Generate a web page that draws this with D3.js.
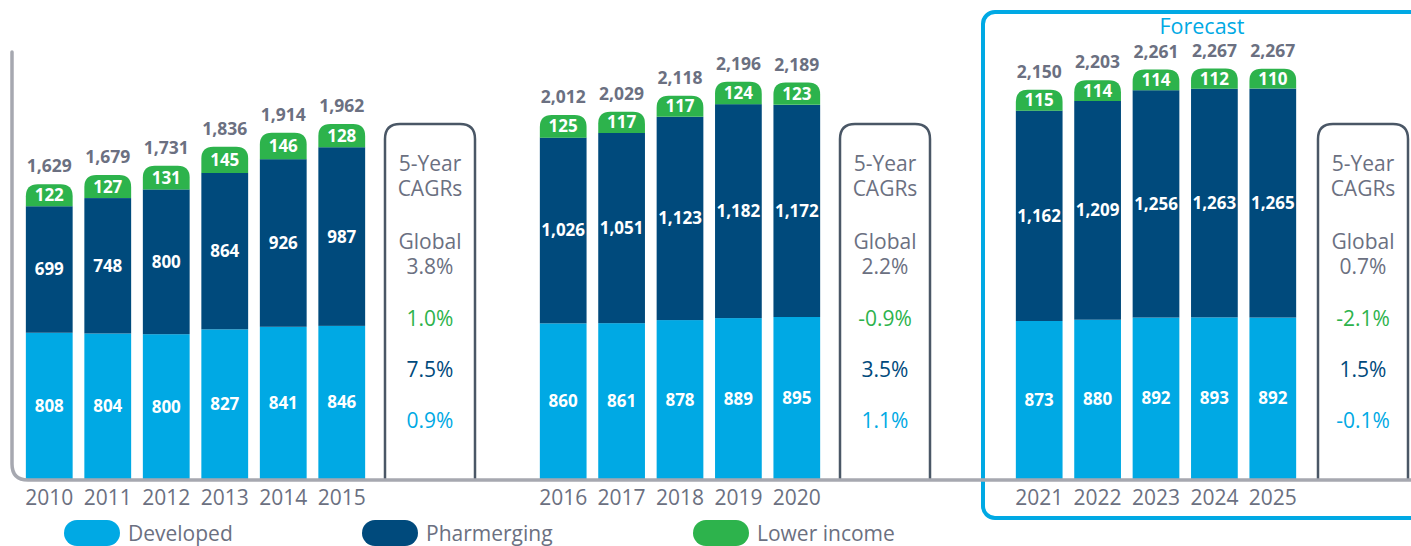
<!DOCTYPE html>
<html><head><meta charset="utf-8">
<script src="https://cdn.jsdelivr.net/npm/d3@7"></script>
<style>
html,body{margin:0;padding:0;background:#fff;}
text{font-family:"Open Sans","Noto Sans",sans-serif;}
</style></head>
<body>
<svg id="c" width="1411" height="546"></svg>
<script>
const years = [2010,2011,2012,2013,2014,2015,2016,2017,2018,2019,2020,2021,2022,2023,2024,2025];
const developed = [808,804,800,827,841,846,860,861,878,889,895,873,880,892,893,892];
const pharmerging = [699,748,800,864,926,987,1026,1051,1123,1182,1172,1162,1209,1256,1263,1265];
const lowerIncome = [122,127,131,145,146,128,125,117,117,124,123,115,114,114,112,110];
const totals = [1629,1679,1731,1836,1914,1962,2012,2029,2118,2196,2189,2150,2203,2261,2267,2267];
const groups = [[2010,2011,2012,2013,2014,2015],[2016,2017,2018,2019,2020],[2021,2022,2023,2024,2025]];
const cagrGlobal = ["3.8%","2.2%","0.7%"];
const cagrLower = ["1.0%","-0.9%","-2.1%"];
const cagrPharm = ["7.5%","3.5%","1.5%"];
const cagrDev = ["0.9%","1.1%","-0.1%"];
const seriesNames = ["Developed","Pharmerging","Lower income"];

const C = {dev:"#00a9e4", ph:"#004a7c", low:"#2db34c", gray:"#6b7081", axis:"#a6a8b0", box:"#4a5766"};
const svg = d3.select("#c");
const base = 479;
const y = d3.scaleLinear().domain([0,2500]).range([base, base-452.5]);
const ranges = [[20,371],[534,826],[1010,1302]];
const boxX = [385,840,1318];
const boxW = 90;

// forecast box
svg.append("rect").attr("x",983).attr("y",12).attr("width",460).attr("height",506)
  .attr("rx",12).attr("fill","none").attr("stroke",C.dev).attr("stroke-width",4);
svg.append("text").attr("x",1202).attr("y",34).attr("text-anchor","middle")
  .attr("font-size",21.5).attr("fill",C.dev).text("Forecast");

const stack = years.map((yr,i)=>({yr,i,d:developed[i],p:pharmerging[i],l:lowerIncome[i],t:totals[i]}));

groups.forEach((g,gi)=>{
  const x = d3.scaleBand().domain(g).range(ranges[gi]).paddingInner(0.2).paddingOuter(0.1);
  const bw = x.bandwidth();
  const data = stack.filter(s=>g.includes(s.yr));
  const gg = svg.append("g");
  gg.selectAll(".dev").data(data).join("rect")
    .attr("x",d=>x(d.yr)).attr("width",bw)
    .attr("y",d=>y(d.d)).attr("height",d=>base-y(d.d)).attr("fill",C.dev);
  gg.selectAll(".ph").data(data).join("rect")
    .attr("x",d=>x(d.yr)).attr("width",bw)
    .attr("y",d=>y(d.d+d.p)).attr("height",d=>y(d.d)-y(d.d+d.p)).attr("fill",C.ph);
  gg.selectAll(".low").data(data).join("path")
    .attr("fill",C.low)
    .attr("d",d=>{
      const x0=x(d.yr), x1=x0+bw, yb=y(d.d+d.p), yt=y(d.d+d.p+d.l), r=12;
      return `M${x0},${yb}V${yt+r}Q${x0},${yt} ${x0+r},${yt}H${x1-r}Q${x1},${yt} ${x1},${yt+r}V${yb}Z`;
    });
  const lab = (sel,cls,fy,txt,fill,fs,wt)=>sel.selectAll("."+cls).data(data).join("text")
    .attr("x",d=>x(d.yr)+bw/2).attr("y",fy).attr("text-anchor","middle")
    .attr("font-size",fs).attr("font-weight",wt).attr("fill",fill).text(txt);
  lab(gg,"ldev",d=>(y(d.d)+base)/2+6,d=>d3.format(",")(d.d),"#fff",17,700);
  lab(gg,"lph",d=>(y(d.d)+y(d.d+d.p))/2+6,d=>d3.format(",")(d.p),"#fff",17,700);
  lab(gg,"llow",d=>(y(d.d+d.p)+y(d.d+d.p+d.l))/2+6,d=>d3.format(",")(d.l),"#fff",17,700);
  lab(gg,"ltot",d=>y(d.t)-12,d=>d3.format(",")(d.t),C.gray,17.5,700);
  lab(gg,"lyr",505,d=>d.yr,C.gray,21,400);

  const bx=boxX[gi], top=124, r=15;
  svg.append("path").attr("fill","none").attr("stroke",C.box).attr("stroke-width",2.5)
    .attr("d",`M${bx},${base}V${top+r}Q${bx},${top} ${bx+r},${top}H${bx+boxW-r}Q${bx+boxW},${top} ${bx+boxW},${top+r}V${base}`);
  const cx = bx+boxW/2;
  const lines = [["5-Year",171,C.gray],["CAGRs",196,C.gray],["Global",249,C.gray],[cagrGlobal[gi],274,C.gray],
    [cagrLower[gi],326,C.low],[cagrPharm[gi],377,C.ph],[cagrDev[gi],428,C.dev]];
  lines.forEach(([t,yy,f])=>svg.append("text").attr("x",cx).attr("y",yy).attr("text-anchor","middle")
    .attr("font-size",21).attr("fill",f).text(t));
});

svg.append("path").attr("fill","none").attr("stroke",C.axis).attr("stroke-width",3.5).attr("stroke-linecap","round")
  .attr("d",`M12,52V464Q12,480 28,480H1411`);

const legX = [64,362,693];
const legC = [C.dev,C.ph,C.low];
seriesNames.forEach((n,i)=>{
  svg.append("rect").attr("x",legX[i]).attr("y",520).attr("width",56).attr("height",26).attr("rx",13).attr("fill",legC[i]);
  svg.append("text").attr("x",legX[i]+64).attr("y",541).attr("font-size",21).attr("fill",C.gray).text(n);
});
</script>
</body></html>
